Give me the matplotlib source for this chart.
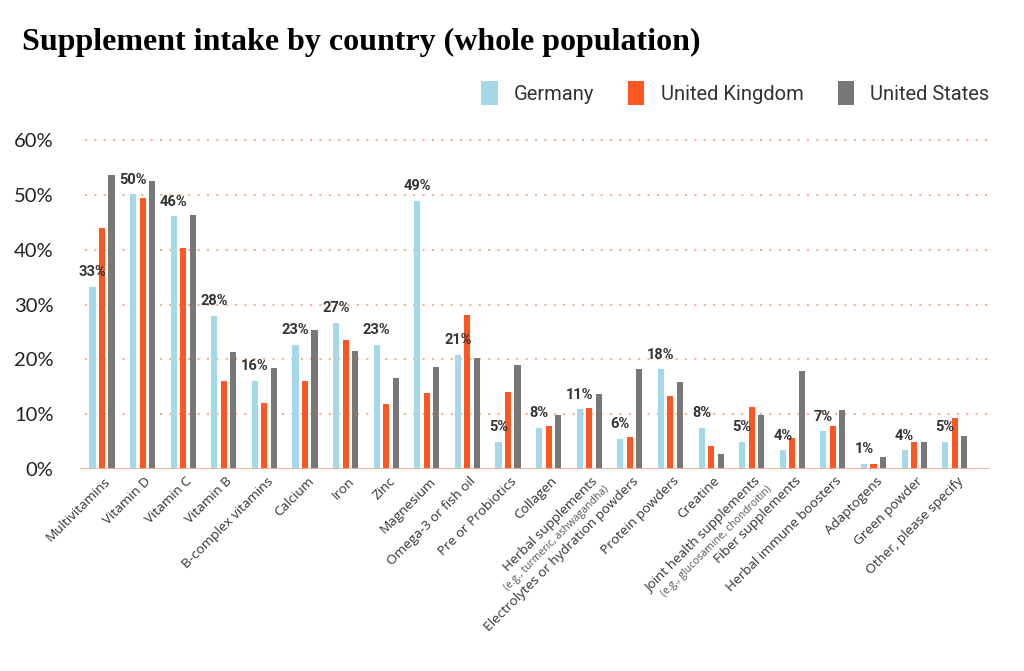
import matplotlib
matplotlib.use("Agg")
import matplotlib.pyplot as plt
import numpy as np

categories = ["Multivitamins", "Vitamin D", "Vitamin C", "Vitamin B", "B-complex vitamins",
              "Calcium", "Iron", "Zinc", "Magnesium", "Omega-3 or fish oil",
              "Pre or Probiotics", "Collagen", "Herbal supplements",
              "Electrolytes or hydration powders", "Protein powders", "Creatine",
              "Joint health supplements", "Fiber supplements", "Herbal immune boosters",
              "Adaptogens", "Green powder", "Other, please specify"]
sub_labels = {12: "(e.g., turmeric, ashwagandha)", 16: "(e.g., glucosamine, chondroitin)"}

germany = [33.3, 50.1, 46.1, 28.0, 16.1, 22.6, 26.7, 22.6, 48.9, 20.8,
           5.0, 7.5, 10.9, 5.5, 18.2, 7.5, 5.0, 3.4, 6.9, 1.0, 3.4, 5.0]
uk = [44.0, 49.4, 40.3, 16.1, 12.0, 16.1, 23.5, 11.8, 13.9, 28.1,
      14.0, 7.8, 11.1, 5.8, 13.3, 4.2, 11.4, 5.6, 7.8, 0.9, 5.0, 9.3]
us = [53.7, 52.5, 46.3, 21.4, 18.5, 25.3, 21.6, 16.6, 18.7, 20.3,
      18.9, 9.9, 13.6, 18.3, 15.8, 2.8, 9.9, 17.8, 10.8, 2.1, 5.0, 6.0]
labels = ["33%", "50%", "46%", "28%", "16%", "23%", "27%", "23%", "49%", "21%",
          "5%", "8%", "11%", "6%", "18%", "8%", "5%", "4%", "7%", "1%", "4%", "5%"]

c_de = "#a3d9e8"
c_uk = "#fd5622"
c_us = "#787878"
c_grid = "#f7b28a"

fig = plt.figure(figsize=(10.24, 6.71), dpi=100)
ax = fig.add_axes([80/1024, 1-469/671, 910/1024, (469-134.7)/671])

x = np.arange(len(categories))
off = 0.234
w = 0.15
ax.bar(x - off, germany, w, color=c_de, label="Germany", zorder=3)
ax.bar(x, uk, w, color=c_uk, label="United Kingdom", zorder=3)
ax.bar(x + off, us, w, color=c_us, label="United States", zorder=3)

# percent labels only over the Germany bars
for i, v in enumerate(germany):
    ax.text(x[i] - off, v + 1.4, labels[i], ha="center", va="bottom",
            fontsize=10.5, fontweight="bold", color="#333333", family="Roboto", zorder=4)

ax.set_xlim(-0.542, 21.87)
ax.set_ylim(0, 61)
for g in range(10, 61, 10):
    ax.plot([-0.42, 21.87], [g, g], linestyle=(0, (1, 3.5)), lw=1.5, color=c_grid, zorder=1)
ax.axhline(0, color=c_grid, lw=2, zorder=4)

for s in ax.spines.values():
    s.set_visible(False)
ax.set_yticks(range(0, 61, 10))
ax.set_yticklabels([f"{t}%" for t in range(0, 61, 10)], family="Lato",
                   fontsize=14.5, color="#222222")
ax.tick_params(axis="y", length=0, pad=19)
ax.tick_params(axis="x", length=0, pad=4)
ax.set_xticks(x + 0.05)
ax.set_xticklabels(categories, rotation=45, ha="right", rotation_mode="anchor",
                   family="Open Sans", fontsize=9.7, color="#333333")

for i, t in sub_labels.items():
    ax.annotate(t, xy=(x[i] + 0.05, 0), xycoords="data", xytext=(9, -11),
                textcoords="offset points", rotation=45, ha="right", va="top",
                rotation_mode="anchor", family="Open Sans", fontsize=7.5, color="#555555")

fig.text(22/1024, 1-42/671, "Supplement intake by country (whole population)",
         family="Liberation Serif", fontweight="bold", fontsize=23, va="center", color="black")

fig.legend(loc="center right", bbox_to_anchor=(1007/1024, 1-93/671), ncol=3, frameon=False,
           prop={"family": "Roboto", "size": 14.5}, handlelength=0.8, handleheight=1.5,
           columnspacing=1.7, handletextpad=0.8, labelcolor="#333333")

fig.savefig("out.png", dpi=100, facecolor="white")
